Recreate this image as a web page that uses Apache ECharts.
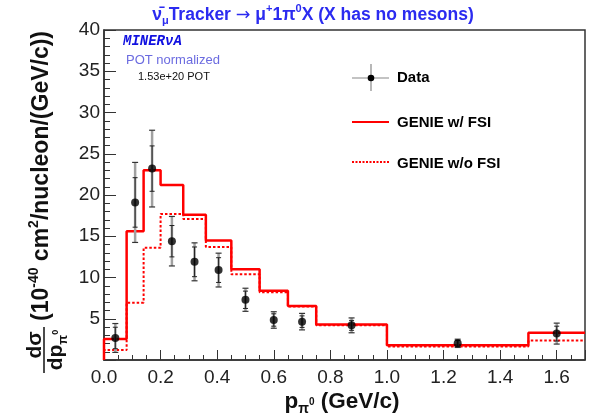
<!DOCTYPE html>
<html>
<head>
<meta charset="utf-8">
<script src="https://cdn.jsdelivr.net/npm/echarts@6/dist/echarts.min.js"></script>
<style>
  html, body { margin: 0; padding: 0; background: #fff; }
</style>
</head>
<body>
<div id="main" style="width: 595px; height: 419px"></div>
<script>
// bin edges (GeV/c) and histogram heights
const binEdges = [0, 0.08, 0.14, 0.2, 0.28, 0.36, 0.45, 0.55, 0.65, 0.75, 1.0, 1.5, 1.7]
const genieFsi = [2.55, 15.6, 23.0, 21.2, 17.6, 14.5, 11.0, 8.4, 6.55, 4.3, 1.8, 3.3]
const genieNoFsi = [1.2, 6.95, 13.6, 17.7, 17.1, 13.7, 10.4, 8.2, 6.5, 4.2, 1.65, 2.35]

// data points: bin centre, value, total error, stat error
const dataX = [0.04, 0.11, 0.17, 0.24, 0.32, 0.405, 0.5, 0.6, 0.7, 0.875, 1.25, 1.6]
const dataY = [2.67, 19.1, 23.2, 14.4, 11.9, 10.9, 7.3, 4.85, 4.65, 4.2, 2.02, 3.2]
const totErr = [1.75, 4.85, 4.65, 3.0, 2.3, 2.05, 1.4, 1.0, 1.0, 0.9, 0.5, 1.27]
const statErr = [1.3, 3.0, 2.75, 1.9, 1.8, 1.5, 1.05, 0.75, 0.7, 0.6, 0.35, 0.9]

const FONT = '"Liberation Sans", Arial, sans-serif'

// histogram outline as a step line
function steps(edges, vals) {
  const pts = [[edges[0], 0]]
  vals.forEach(function(v, i) {
    pts.push([edges[i], v])
    pts.push([edges[i + 1], v])
  })
  return pts
}

// rich text styles: main / superscript / subscript / sup on subscript
function richSet(size, color) {
  var small = Math.round(size * 0.62)
  var lh = Math.round(size * 1.3)
  return {
    m: { fontFamily: FONT, fontWeight: 'bold', fontSize: size, fill: color, lineHeight: lh, verticalAlign: 'middle' },
    ar: { fontFamily: '"DejaVu Sans"', fontSize: size, fill: color, lineHeight: lh, verticalAlign: 'middle' },
    sup: { fontFamily: FONT, fontWeight: 'bold', fontSize: small, fill: color, lineHeight: small + 1, verticalAlign: 'top' },
    sub: { fontFamily: FONT, fontWeight: 'bold', fontSize: small, fill: color, lineHeight: small + 1, verticalAlign: 'bottom' },
    ss: { fontFamily: FONT, fontWeight: 'bold', fontSize: Math.round(small * 0.72), fill: color, lineHeight: small, verticalAlign: 'middle' }
  }
}

const errData = dataX.map(function(x, i) {
  return [x, dataY[i], totErr[i], statErr[i]]
})

var myChart = echarts.init(document.getElementById('main'))

var option = {
  backgroundColor: '#fff',
  animation: false,
  grid: {
    left: 104,
    right: 10,
    top: 30,
    bottom: 59,
    show: true,
    borderColor: '#333',
    borderWidth: 1.5
  },
  xAxis: {
    type: 'value',
    min: 0,
    max: 1.7,
    interval: 0.2,
    axisLine: { show: true, onZero: false, lineStyle: { color: '#333', width: 1.5 } },
    axisTick: { show: true, inside: true, length: 10, lineStyle: { color: '#333' } },
    minorTick: { show: true, splitNumber: 4, length: 5, lineStyle: { color: '#333' } },
    splitLine: { show: false },
    axisLabel: {
      formatter: function(v) { return v.toFixed(1) },
      fontFamily: FONT,
      fontSize: 19,
      color: '#222',
      margin: 8,
      showMaxLabel: false
    }
  },
  yAxis: {
    type: 'value',
    min: 0,
    max: 40,
    interval: 5,
    axisLine: { show: true, lineStyle: { color: '#333', width: 1.5 } },
    axisTick: { show: true, inside: true, length: 12, lineStyle: { color: '#333' } },
    minorTick: { show: true, splitNumber: 5, length: 6, lineStyle: { color: '#333' } },
    splitLine: { show: false },
    axisLabel: {
      formatter: function(v) { return v === 0 ? '' : String(v) },
      fontFamily: FONT,
      fontSize: 19,
      color: '#222',
      margin: 4
    }
  },
  series: [
    {
      name: 'GENIE w/o FSI',
      type: 'line',
      data: steps(binEdges, genieNoFsi),
      showSymbol: false,
      clip: true,
      lineStyle: { color: '#ff0000', width: 2, type: [2.5, 2] },
      z: 2
    },
    {
      name: 'GENIE w/ FSI',
      type: 'line',
      data: steps(binEdges, genieFsi),
      showSymbol: false,
      clip: true,
      lineStyle: { color: '#ff0000', width: 2.5 },
      z: 3
    },
    {
      name: 'Data errors',
      type: 'custom',
      data: errData,
      encode: { x: 0, y: 1 },
      z: 4,
      renderItem: function(params, api) {
        var x = api.value(0), y = api.value(1), t = api.value(2), s = api.value(3)
        var top = api.coord([x, y + t]), bot = api.coord([x, y - t])
        var st = api.coord([x, y + s]), sb = api.coord([x, y - s])
        var cap = function(p, w, color, lw) {
          return { type: 'line', shape: { x1: p[0] - w, y1: p[1], x2: p[0] + w, y2: p[1] }, style: { stroke: color, lineWidth: lw } }
        }
        return {
          type: 'group',
          children: [
            { type: 'line', shape: { x1: top[0], y1: top[1], x2: bot[0], y2: bot[1] }, style: { stroke: '#a0a0a0', lineWidth: 2.5 } },
            cap(top, 3, '#333', 1.2),
            cap(bot, 3, '#333', 1.2),
            { type: 'line', shape: { x1: st[0], y1: st[1], x2: sb[0], y2: sb[1] }, style: { stroke: '#222', lineWidth: 1 } },
            cap(st, 2.5, '#222', 1),
            cap(sb, 2.5, '#222', 1)
          ]
        }
      }
    },
    {
      name: 'Data',
      type: 'scatter',
      data: dataX.map(function(x, i) { return [x, dataY[i]] }),
      symbol: 'circle',
      symbolSize: 8,
      itemStyle: { color: '#000' },
      z: 5
    }
  ],
  graphic: [
    // title
    {
      type: 'text', x: 313, y: 15,
      style: {
        text: '{m|ν\u0304}{sub|μ}{m|Tracker }{ar|→}{m| μ}{sup|+}{m|1π}{sup|0}{m|X (X has no mesons)}',
        align: 'center', verticalAlign: 'middle',
        rich: richSet(17.5, '#2b2bf0')
      }
    },
    // MINERvA labels
    { type: 'text', x: 123, y: 41, style: { text: 'MINERνA', fontFamily: '"Liberation Mono", monospace', fontWeight: 'bold', fontStyle: 'italic', fontSize: 14, fill: '#1010e0', verticalAlign: 'middle' } },
    { type: 'text', x: 126, y: 60, style: { text: 'POT normalized', fontFamily: FONT, fontSize: 13, fill: '#6b6be0', verticalAlign: 'middle' } },
    { type: 'text', x: 138, y: 77, style: { text: '1.53e+20 POT', fontFamily: FONT, fontSize: 11, fill: '#111', verticalAlign: 'middle' } },
    // legend
    { type: 'line', shape: { x1: 352, y1: 78, x2: 389, y2: 78 }, style: { stroke: '#888', lineWidth: 1.2 } },
    { type: 'line', shape: { x1: 371, y1: 64, x2: 371, y2: 91 }, style: { stroke: '#888', lineWidth: 1.2 } },
    { type: 'circle', shape: { cx: 371, cy: 78, r: 3.3 }, style: { fill: '#000' } },
    { type: 'text', x: 397, y: 78, style: { text: 'Data', fontFamily: FONT, fontWeight: 'bold', fontSize: 15, fill: '#000', verticalAlign: 'middle' } },
    { type: 'line', shape: { x1: 352, y1: 122, x2: 389, y2: 122 }, style: { stroke: '#ff0000', lineWidth: 2 } },
    { type: 'text', x: 397, y: 123, style: { text: 'GENIE w/ FSI', fontFamily: FONT, fontWeight: 'bold', fontSize: 15, fill: '#000', verticalAlign: 'middle' } },
    { type: 'line', shape: { x1: 352, y1: 162, x2: 389, y2: 162 }, style: { stroke: '#ff0000', lineWidth: 2, lineDash: [2, 1.5] } },
    { type: 'text', x: 397, y: 164, style: { text: 'GENIE w/o FSI', fontFamily: FONT, fontWeight: 'bold', fontSize: 15, fill: '#000', verticalAlign: 'middle' } },
    // x axis title
    {
      type: 'text', x: 342, y: 402,
      style: {
        text: '{m|p}{sub|π}{ss|0}{m| (GeV/c)}',
        align: 'center', verticalAlign: 'middle',
        rich: richSet(22.5, '#111')
      }
    },
    // y axis title
    {
      type: 'text', x: 42, y: 176, rotation: Math.PI / 2,
      style: {
        text: '{m|(10}{sup|-40}{m| cm}{sup|2}{m|/nucleon/(GeV/c))}',
        align: 'center', verticalAlign: 'middle',
        rich: richSet(23, '#111')
      }
    },
    {
      type: 'text', x: 35, y: 345, rotation: Math.PI / 2,
      style: { text: 'dσ', fontFamily: FONT, fontWeight: 'bold', fontSize: 21, fill: '#111', align: 'center', verticalAlign: 'middle' }
    },
    { type: 'line', shape: { x1: 44, y1: 327, x2: 44, y2: 373 }, style: { stroke: '#111', lineWidth: 1.5 } },
    {
      type: 'text', x: 56, y: 350, rotation: Math.PI / 2,
      style: {
        text: '{m|dp}{sub|π}{ss|0}',
        align: 'center', verticalAlign: 'middle',
        rich: richSet(21, '#111')
      }
    }
  ]
}

myChart.setOption(option)
</script>
</body>
</html>
